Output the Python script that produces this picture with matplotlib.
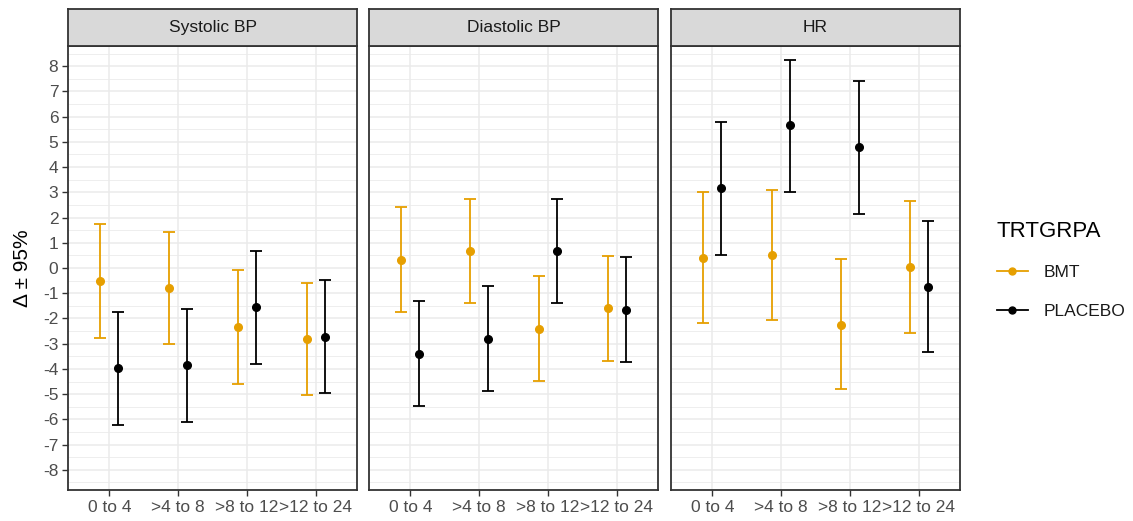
import matplotlib
matplotlib.use("Agg")
import matplotlib.pyplot as plt
from matplotlib.lines import Line2D
import numpy as np

plt.rcParams['font.family'] = ['Liberation Sans', 'DejaVu Sans']
plt.rcParams['axes.unicode_minus'] = False

panels = ["Systolic BP", "Diastolic BP", "HR"]
categories = ["0 to 4", ">4 to 8", ">8 to 12", ">12 to 24"]
groups = ["BMT", "PLACEBO"]
colors = {"BMT": "#E69F00", "PLACEBO": "#000000"}

# estimates, lower, upper for each panel and group
bmt_est = {"Systolic BP": [-0.52, -0.79, -2.34, -2.82],
           "Diastolic BP": [0.32, 0.66, -2.41, -1.57],
           "HR": [0.41, 0.50, -2.24, 0.04]}
bmt_lo = {"Systolic BP": [-2.76, -3.03, -4.59, -5.05],
          "Diastolic BP": [-1.73, -1.40, -4.46, -3.68],
          "HR": [-2.17, -2.08, -4.81, -2.57]}
bmt_hi = {"Systolic BP": [1.73, 1.43, -0.09, -0.58],
          "Diastolic BP": [2.41, 2.72, -0.30, 0.49],
          "HR": [3.03, 3.10, 0.36, 2.66]}
plc_est = {"Systolic BP": [-3.98, -3.85, -1.53, -2.72],
           "Diastolic BP": [-3.39, -2.82, 0.66, -1.68],
           "HR": [3.16, 5.66, 4.78, -0.75]}
plc_lo = {"Systolic BP": [-6.23, -6.10, -3.82, -4.97],
          "Diastolic BP": [-5.46, -4.89, -1.40, -3.73],
          "HR": [0.53, 3.03, 2.16, -3.33]}
plc_hi = {"Systolic BP": [-1.73, -1.61, 0.69, -0.49],
          "Diastolic BP": [-1.30, -0.73, 2.75, 0.42],
          "HR": [5.77, 8.25, 7.41, 1.87]}

y_ticks = list(range(-8, 9))

W, H = 1133, 521
fig = plt.figure(figsize=(W / 100, H / 100), dpi=100)

panel_left_px = [68, 369, 671]
panel_w_px = 289
top_px, bottom_px = 46, 490
strip_top_px = 9

dodge = 0.13
x = np.arange(len(categories))
edge = "#333333"
text_col = "#4D4D4D"

for i, p in enumerate(panels):
    l = panel_left_px[i] / W
    b = 1 - bottom_px / H
    h = (bottom_px - top_px) / H
    w = panel_w_px / W
    ax = fig.add_axes([l, b, w, h])
    ax.set_xlim(-0.6, 3.6)
    ax.set_ylim(-8.8, 8.8)
    ax.set_yticks(y_ticks)
    ax.set_yticks(np.arange(-8.5, 9.0, 1.0), minor=True)
    ax.set_xticks(x)
    ax.set_xticklabels(categories)
    ax.grid(which='major', color='#EBEBEB', linewidth=1.1, zorder=0)
    ax.grid(which='minor', axis='y', color='#EBEBEB', linewidth=0.6, zorder=0)
    ax.set_axisbelow(True)
    ax.tick_params(axis='both', which='major', length=4, width=1.0, color=edge,
                   labelcolor=text_col, labelsize=12.5, pad=3)
    ax.tick_params(axis='y', which='minor', length=0)
    if i > 0:
        ax.tick_params(axis='y', which='major', left=False, labelleft=False)
    for s in ax.spines.values():
        s.set_color(edge)
        s.set_linewidth(1.3)

    for g, est, lo, hi, off in [("BMT", bmt_est, bmt_lo, bmt_hi, -dodge),
                                ("PLACEBO", plc_est, plc_lo, plc_hi, dodge)]:
        e = np.array(est[p]); lo_ = np.array(lo[p]); hi_ = np.array(hi[p])
        ax.errorbar(x + off, e, yerr=[e - lo_, hi_ - e], fmt='o', color=colors[g],
                    ecolor=colors[g], elinewidth=1.3, capsize=4.5, capthick=1.3,
                    markersize=5.5, zorder=3)

    # strip
    sax = fig.add_axes([l, 1 - top_px / H, w, (top_px - strip_top_px) / H])
    sax.set_facecolor('#D9D9D9')
    sax.set_xticks([]); sax.set_yticks([])
    for s in sax.spines.values():
        s.set_color(edge)
        s.set_linewidth(1.3)
    sax.text(0.5, 0.5, p, ha='center', va='center', fontsize=12.5, color='#1A1A1A',
             transform=sax.transAxes)

fig.text(23 / W, 1 - 268 / H, "Δ ± 95%", rotation=90, ha='center', va='center',
         fontsize=15, color='#000000')

handles = [Line2D([0], [0], color=colors[g], marker='o', markersize=5, linewidth=1.3)
           for g in groups]
leg = fig.legend(handles, groups, title="TRTGRPA", loc='upper left',
                 bbox_to_anchor=(981 / W, 1 - 205 / H), frameon=False,
                 fontsize=12.5, title_fontsize=16, handlelength=1.8,
                 handletextpad=0.9, labelspacing=1.35, alignment='left')
for t in leg.get_texts():
    t.set_color('#1A1A1A')

fig.savefig("out.png", dpi=100)
